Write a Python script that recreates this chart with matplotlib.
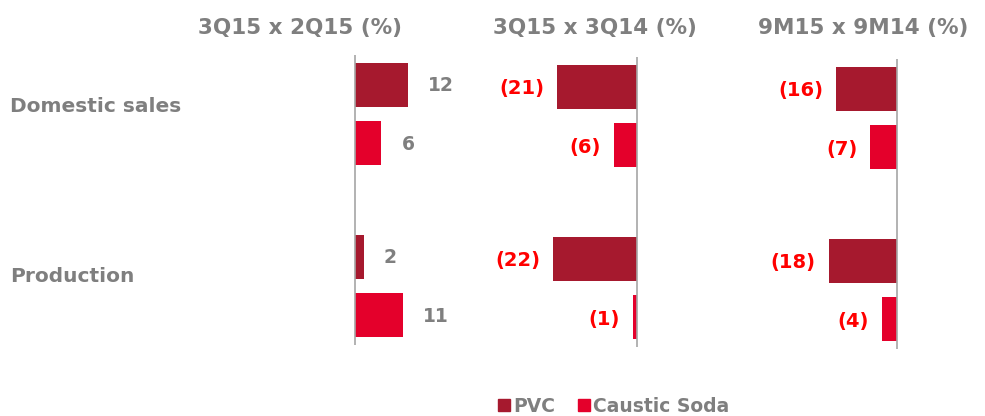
import numpy as np
import matplotlib
matplotlib.use('Agg')
import matplotlib.pyplot as plt
from matplotlib.lines import Line2D

categories = ['Domestic sales', 'Production']
titles = ['3Q15 x 2Q15 (%)', '3Q15 x 3Q14 (%)', '9M15 x 9M14 (%)']
pvc = [[12, 2], [-21, -22], [-16, -18]]
soda = [[6, 11], [-6, -1], [-7, -4]]

c_pvc = '#A6192E'
c_soda = '#E4002B'
grey = '#7F7F7F'
red = '#FF0000'

W, H = 985, 416
fig = plt.figure(figsize=(W / 100, H / 100), dpi=100)

# panel boxes in pixels: left, right, top, zero x, px per unit
panels = [(200, 470, 55, 355, 4.4), (490, 700, 57, 637, 3.8), (750, 980, 59, 897, 3.8)]

for i, (l, r, top, x0, s) in enumerate(panels):
    bot = top + 290
    ax = fig.add_axes([l / W, 1 - bot / H, (r - l) / W, (bot - top) / H])
    ax.set_xlim((l - x0) / s, (r - x0) / s)
    ax.set_ylim(1.343, -0.343)
    y = np.arange(len(categories))
    ax.barh(y - 0.169, pvc[i], height=0.256, color=c_pvc)
    ax.barh(y + 0.169, soda[i], height=0.256, color=c_soda)
    ax.axvline(0, color='#A6A6A6', lw=1.2)
    for vals, off in [(pvc[i], -0.169), (soda[i], 0.169)]:
        for yy, v in zip(y, vals):
            if v >= 0:
                ax.annotate(str(v), (v, yy + off), xytext=(20, -1), textcoords='offset pixels',
                            ha='left', va='center', color=grey, fontsize=13.5, fontweight='bold')
            else:
                ax.annotate('(%d)' % abs(v), (v, yy + off), xytext=(-13, -2), textcoords='offset pixels',
                            ha='right', va='center', color=red, fontsize=14, fontweight='bold')
    ax.axis('off')
    fig.text([300, 595, 863][i] / W, 1 - 28 / H, titles[i], ha='center', va='center',
             color=grey, fontsize=15.5, fontweight='bold')

for cat, yp in zip(categories, [106, 277]):
    fig.text(10 / W, 1 - yp / H, cat, ha='left', va='center', color=grey,
             fontsize=14.5, fontweight='bold')

handles = [Line2D([], [], marker='s', ls='', color=c_pvc, markersize=8),
           Line2D([], [], marker='s', ls='', color=c_soda, markersize=8)]
leg = fig.legend(handles, ['PVC', 'Caustic Soda'], loc='center', bbox_to_anchor=(614 / W, 1 - 406 / H),
                 ncol=2, frameon=False, handlelength=0.6, handletextpad=0.2, columnspacing=1.2,
                 prop={'size': 13.5, 'weight': 'bold'})
for t in leg.get_texts():
    t.set_color(grey)

fig.savefig('out.png', dpi=100)
